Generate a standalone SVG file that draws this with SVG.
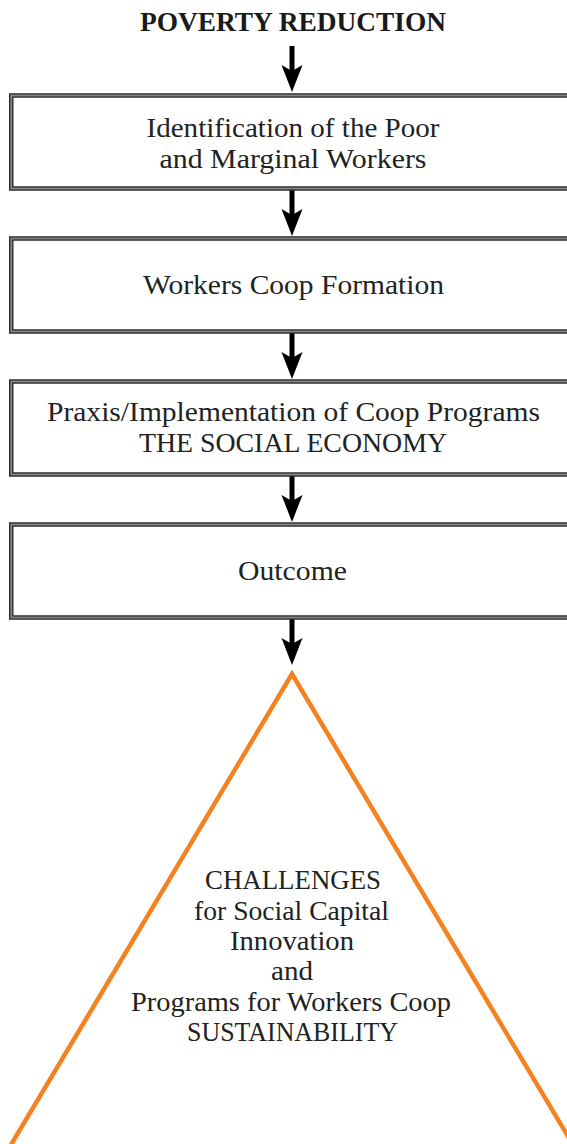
<svg xmlns="http://www.w3.org/2000/svg" width="567" height="1144" viewBox="0 0 567 1144">
  <style>
    .frame-outer { fill: #ffffff; stroke: #2b2b2b; stroke-width: 4.5; }
    .frame-inner { fill: none; stroke: #858585; stroke-width: 1.8; }
    .label { font-family: "Liberation Serif", "Times New Roman", serif; font-size: 27px; fill: #222222; text-anchor: middle; }
    .title { font-family: "Liberation Serif", "Times New Roman", serif; font-size: 27px; font-weight: bold; fill: #1a1a1a; text-anchor: middle; }
    .flow { stroke: #000000; stroke-width: 5; fill: none; marker-end: url(#head); }
    .peak { fill: none; stroke: #f58220; stroke-width: 4.5; stroke-linejoin: miter; stroke-miterlimit: 10; }
  </style>
  <defs>
    <marker id="head" markerUnits="userSpaceOnUse" orient="auto" markerWidth="30" markerHeight="24" viewBox="0 -12 28 24" refX="7" refY="0">
      <path d="M27,0 L0,-10.5 L6,0 L0,10.5 Z" fill="#000000"/>
    </marker>
  </defs>

  <rect width="567" height="1144" fill="#ffffff"/>

  <g id="title">
    <text class="title" x="293" y="31" textLength="306" lengthAdjust="spacingAndGlyphs">POVERTY REDUCTION</text>
  </g>

  <g id="connectors">
    <line class="flow" x1="292" y1="46" x2="292" y2="72"/>
    <line class="flow" x1="292" y1="190" x2="292" y2="216"/>
    <line class="flow" x1="292" y1="333" x2="292" y2="359"/>
    <line class="flow" x1="292" y1="476" x2="292" y2="502"/>
    <line class="flow" x1="292" y1="619" x2="292" y2="645"/>
  </g>

  <g id="identification">
    <rect class="frame-outer" x="11.25" y="95.5" width="600" height="93"/>
    <rect class="frame-inner" x="11.25" y="95.5" width="600" height="93"/>
    <text class="label" x="293" y="137" textLength="293" lengthAdjust="spacingAndGlyphs">Identification of the Poor</text>
    <text class="label" x="293" y="168" textLength="267" lengthAdjust="spacingAndGlyphs">and Marginal Workers</text>
  </g>

  <g id="coop-formation">
    <rect class="frame-outer" x="11.25" y="238.5" width="600" height="93"/>
    <rect class="frame-inner" x="11.25" y="238.5" width="600" height="93"/>
    <text class="label" x="293.5" y="294" textLength="301" lengthAdjust="spacingAndGlyphs">Workers Coop Formation</text>
  </g>

  <g id="praxis">
    <rect class="frame-outer" x="11.25" y="381.5" width="600" height="93"/>
    <rect class="frame-inner" x="11.25" y="381.5" width="600" height="93"/>
    <text class="label" x="293.5" y="421" textLength="493" lengthAdjust="spacingAndGlyphs">Praxis/Implementation of Coop Programs</text>
    <text class="label" x="293" y="452" textLength="308" lengthAdjust="spacingAndGlyphs">THE SOCIAL ECONOMY</text>
  </g>

  <g id="outcome">
    <rect class="frame-outer" x="11.25" y="524.5" width="600" height="93"/>
    <rect class="frame-inner" x="11.25" y="524.5" width="600" height="93"/>
    <text class="label" x="292.5" y="580" textLength="109" lengthAdjust="spacingAndGlyphs">Outcome</text>
  </g>

  <g id="challenges">
    <polygon class="peak" points="292,674 -22,1200 606,1200"/>
    <text class="label" x="293" y="889" textLength="176" lengthAdjust="spacingAndGlyphs">CHALLENGES</text>
    <text class="label" x="291.5" y="920" textLength="195" lengthAdjust="spacingAndGlyphs">for Social Capital</text>
    <text class="label" x="292" y="950" textLength="124" lengthAdjust="spacingAndGlyphs">Innovation</text>
    <text class="label" x="292" y="980" textLength="42" lengthAdjust="spacingAndGlyphs">and</text>
    <text class="label" x="291" y="1011" textLength="320" lengthAdjust="spacingAndGlyphs">Programs for Workers Coop</text>
    <text class="label" x="292.5" y="1041" textLength="211" lengthAdjust="spacingAndGlyphs">SUSTAINABILITY</text>
  </g>
</svg>
